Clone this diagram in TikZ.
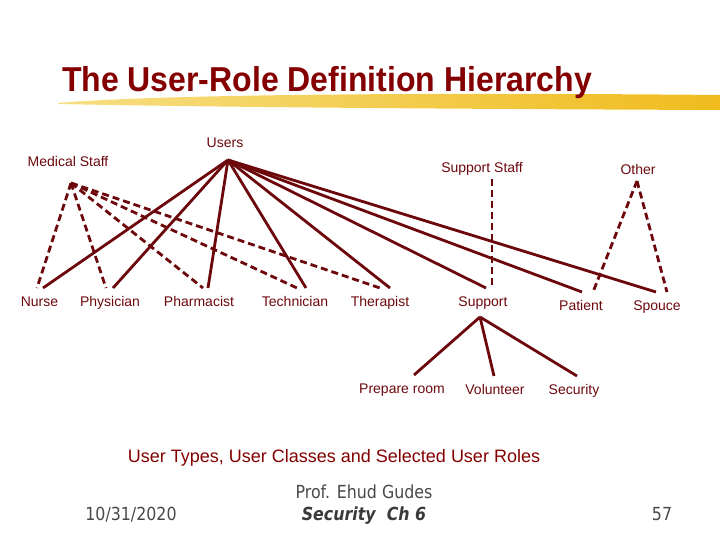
\documentclass[tikz,border=0pt]{standalone}
\usepackage{fontspec}
\setmainfont{Liberation Sans}
\newfontfamily\footfont[FakeStretch=0.88]{DejaVu Sans}
\usepackage{tikz}
\usetikzlibrary{positioning}
\definecolor{roleRed}{RGB}{108,8,12}
\definecolor{titleRed}{RGB}{132,0,0}
\definecolor{hlLight}{RGB}{246,222,130}
\definecolor{hlGold}{RGB}{240,188,30}
\definecolor{footGray}{RGB}{72,72,72}

\begin{document}
\begin{tikzpicture}[x=1pt, y=-1pt,
  lbl/.style={font=\fontsize{14}{16}\selectfont, text=roleRed, inner sep=1pt, text height=10pt, text depth=3pt, outer sep=7pt, anchor=base},
  toplbl/.style={lbl, outer sep=2pt},
  isa/.style={draw=roleRed, line width=2.8pt},
  kind/.style={draw=roleRed, line width=2.8pt, dash pattern=on 7pt off 4pt},
  foot/.style={font=\footfont\fontsize{18}{20}\selectfont, text=footGray, inner sep=0pt, anchor=base}]
\useasboundingbox (0,0) rectangle (720,540);
\shade[left color=hlLight, right color=hlGold] (58,103) .. controls (150,95) and (400,92) .. (720,95) -- (720,110) .. controls (450,109) and (200,107) .. (58,104) -- cycle;
\node[font=\bfseries\fontsize{32}{36}\selectfont, text=titleRed, inner sep=0pt, anchor=base, yscale=1.08] (title) at (327,92) {The User-Role Definition Hierarchy};

\node[toplbl] (users) at (225,148) {Users};
\node[toplbl] (medical) at (68,167) {Medical Staff};
\node[toplbl] (supstaff) at (482,173) {Support Staff};
\node[toplbl] (other) at (638,175) {Other};
\coordinate (usershub) at (228,160);
\coordinate (medhub) at (71,183);

\node[lbl] (nurse) at (39.5,306) {Nurse};
\node[lbl] (physician) at (110,306) {Physician};
\node[lbl] (pharmacist) at (199,306) {Pharmacist};
\node[lbl] (technician) at (295,306) {Technician};
\node[lbl] (therapist) at (380,306) {Therapist};
\node[lbl] (support) at (483,306) {Support};
\node[lbl] (patient) at (581,310) {Patient};
\node[lbl] (spouce) at (657,310) {Spouce};
\node[lbl] (prepare) at (402,393) {Prepare room};
\node[lbl] (volunteer) at (495,394) {Volunteer};
\node[lbl] (security) at (574,394) {Security};

\path[isa] (usershub) -- ([xshift=3.5pt]nurse.north);
\path[isa] (usershub) -- ([xshift=3pt]physician.north);
\path[isa] (usershub) -- ([xshift=9pt]pharmacist.north);
\path[isa] (usershub) -- ([xshift=11pt]technician.north);
\path[isa] (usershub) -- ([xshift=10pt]therapist.north);
\path[isa] (usershub) -- ([xshift=3pt]support.north);
\path[isa] (usershub) -- ([xshift=1pt]patient.north);
\path[isa] (usershub) -- ([xshift=-1pt]spouce.north);

\path[kind] (medhub) -- ([xshift=-2.5pt]nurse.north);
\path[kind] (medhub) -- ([xshift=-4pt]physician.north);
\path[kind] (medhub) -- ([xshift=4pt]pharmacist.north);
\path[kind] (medhub) -- ([xshift=2pt]technician.north);
\path[kind] (medhub) -- (therapist.north);
\path[kind] ([xshift=10pt]supstaff.south) -- ([xshift=9pt]support.north);
\path[kind] ([xshift=-1pt]other.south) -- ([xshift=12pt]patient.north);
\path[kind] ([xshift=-1pt]other.south) -- ([xshift=10pt]spouce.north);

\path[isa] ([xshift=-3pt]support.south) -- ([xshift=12pt]prepare.north);
\path[isa] ([xshift=-3pt]support.south) -- ([xshift=-1pt]volunteer.north);
\path[isa] ([xshift=-3pt]support.south) -- ([xshift=3pt]security.north);

\node[font=\fontsize{18}{20}\selectfont, text=titleRed, inner sep=0pt, anchor=base] (caption) at (334,462) {User Types, User Classes and Selected User Roles};
\node[foot] (author) at (364,498) {Prof. Ehud Gudes};
\node[foot, font=\footfont\bfseries\itshape\fontsize{18}{20}\selectfont, text=footGray!80!black] (course) at (364,520) {Security\ \ Ch 6};
\node[foot] (date) at (131,520) {10/31/2020};
\node[foot] (page) at (662,520) {57};
\end{tikzpicture}
\end{document}
